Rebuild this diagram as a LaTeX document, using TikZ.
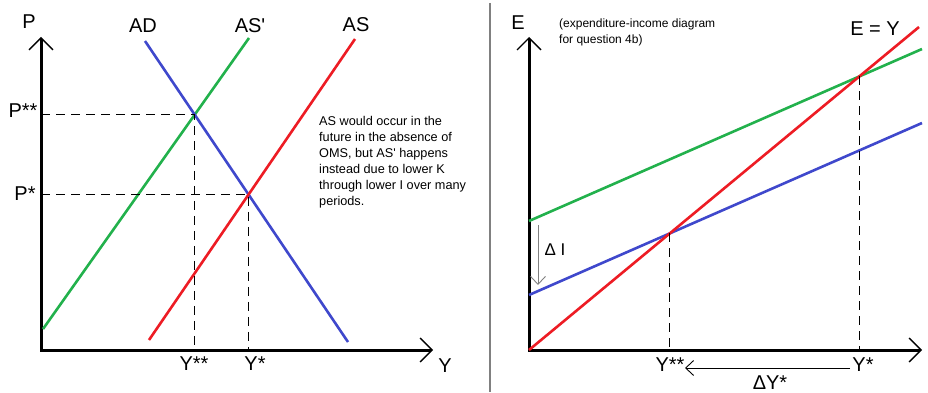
\documentclass[tikz,border=0pt]{standalone}
\usepackage{fontspec}
\setmainfont{Liberation Sans}
\definecolor{paintred}{RGB}{237,28,36}
\definecolor{paintgreen}{RGB}{34,177,76}
\definecolor{paintblue}{RGB}{63,72,204}
\usetikzlibrary{arrows.meta,positioning,intersections}

\begin{document}
\begin{tikzpicture}[
  x=1pt, y=-1pt,
  axis/.style={line width=3pt, {Straight Barb[length=12pt,width=24pt,line width=1.4pt]}-{Straight Barb[length=12pt,width=24pt,line width=1.4pt]}},
  curve/.style={line width=2.6pt},
  guide/.style={line width=0.9pt, dash pattern=on 9pt off 6pt},
  change/.style={line width=0.9pt, -{Straight Barb[length=8pt,width=15pt,line width=0.9pt]}},
  big/.style={font=\fontsize{20}{24}\selectfont, inner sep=0pt},
  mid/.style={font=\fontsize{17}{20}\selectfont, inner sep=0pt},
  note/.style={font=\fontsize{12}{16}\selectfont, align=left, inner sep=0pt, anchor=north west}
]
  \useasboundingbox (0,0) rectangle (928,393);

  % left panel: AD-AS
  \coordinate (O1) at (41,350);
  \coordinate (ptop) at (41,37);
  \coordinate (yend1) at (433,350);
  \draw[axis] (ptop) -- (O1) -- (yend1);

  \coordinate (asp0) at (43,329);
  \coordinate (asp1) at (249,38);
  \coordinate (ad0) at (145,41);
  \coordinate (ad1) at (348,342);
  \coordinate (as0) at (149,340);
  \coordinate (as1) at (355,39);
  \draw[curve, paintgreen, name path=aspl] (asp0) -- (asp1);
  \draw[curve, paintblue, name path=adl] (ad0) -- (ad1);
  \draw[curve, paintred, name path=asl] (as0) -- (as1);
  \path[name intersections={of=adl and aspl, by=eqB}];
  \path[name intersections={of=adl and asl, by=eqA}];

  \draw[guide] (eqB -| O1) -- (eqB) -- (eqB |- O1);
  \draw[guide] (eqA -| O1) -- (eqA) -- (eqA |- O1);

  \node[big] (plbl) at (29,22) {P};
  \node[big] (ylbl1) at (445,366) {Y};
  \node[big] (adlbl) at (143,26) {AD};
  \node[big] (asplbl) at (250,26) {AS\textquotesingle};
  \node[big] (aslbl) at (356,25) {AS};
  \node[big] (pss) at (23,111) {P**};
  \node[big] (ps) at (25,194) {P*};
  \node[big] (yss1) at (194,364) {Y**};
  \node[big] (ys1) at (255,364) {Y*};
  \node[note, font=\fontsize{12.7}{16}\selectfont] (comment) at (319,116) {AS would occur in the\\future in the absence of\\OMS, but AS\textquotesingle{} happens\\instead due to lower K\\through lower I over many\\periods.};

  % divider
  \coordinate (div0) at (490,3);
  \coordinate (div1) at (490,392);
  \draw[gray, line width=2pt] (div0) -- (div1);

  % right panel: expenditure-income
  \coordinate (O2) at (529,350);
  \coordinate (etop) at (529,37);
  \coordinate (yend2) at (922,350);
  \draw[axis] (etop) -- (O2) -- (yend2);

  \coordinate (g0) at (529,221);
  \coordinate (g1) at (922,49);
  \coordinate (b0) at (529,295);
  \coordinate (b1) at (922,123);
  \coordinate (r1) at (919,27);
  \draw[curve, paintgreen, name path=high] (g0) -- (g1);
  \draw[curve, paintblue, name path=low] (b0) -- (b1);
  \draw[curve, paintred, name path=diag] (O2) -- (r1);
  \path[name intersections={of=diag and high, by=eqH}];
  \path[name intersections={of=diag and low, by=eqL}];

  \draw[guide] (eqH) -- (eqH |- O2);
  \draw[guide] (eqL) -- (eqL |- O2);

  \node[big] (elbl) at (518,23) {E};
  \node[big] (eylbl) at (875,29) {E = Y};
  \node[note] (title) at (559,19) {(expenditure-income diagram\\for question 4b)};
  \node[big] (yss2) at (670,365) {Y**};
  \node[big] (ys2) at (863,365) {Y*};

  \coordinate (dy0) at (850,368);
  \coordinate (dy1) at (685,368);
  \draw[change] (dy0) -- (dy1);
  \node[big] (dylbl) at (770,383) {ΔY*};

  \coordinate (di0) at (538,225);
  \coordinate (di1) at (538,285);
  \draw[change, gray] (di0) -- (di1);
  \node[mid] (dilbl) at (555,250) {Δ I};
\end{tikzpicture}
\end{document}
